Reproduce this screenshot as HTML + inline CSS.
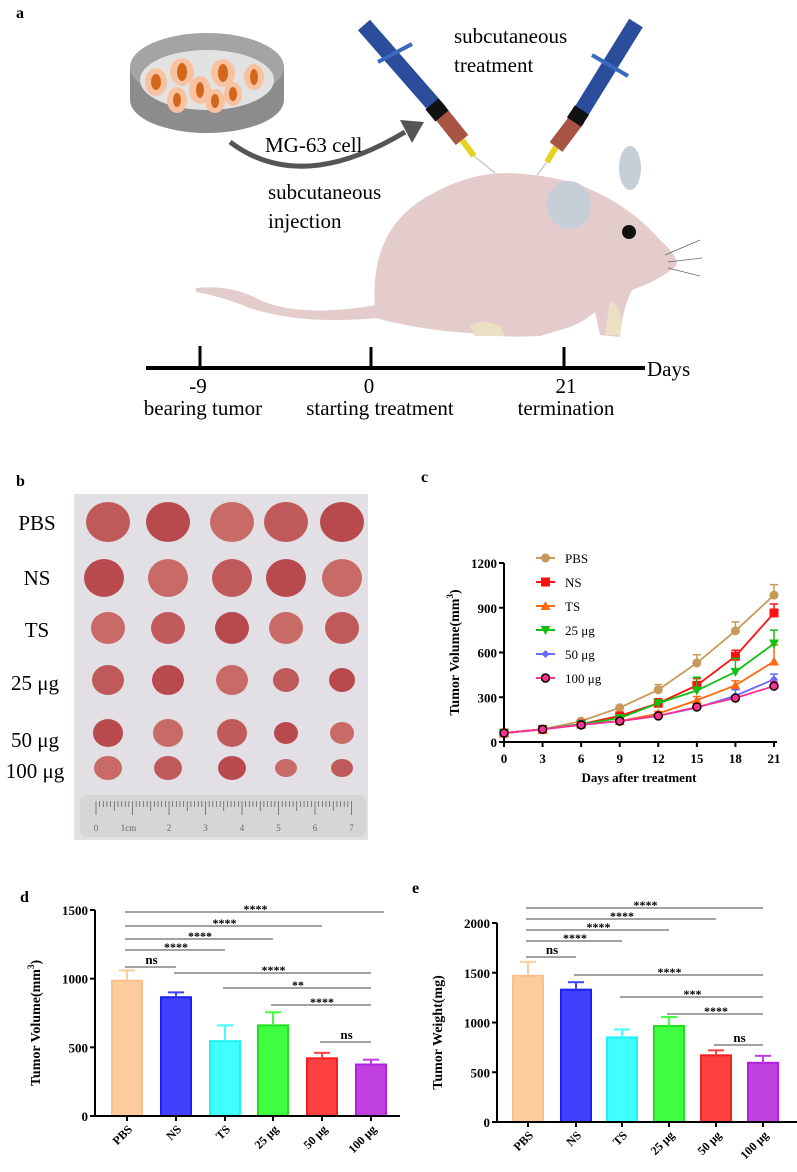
<!DOCTYPE html>
<html><head><meta charset="utf-8"><style>
html,body{margin:0;padding:0;background:#fff}
svg{display:block}
text{font-family:"Liberation Serif",serif}
</style></head><body>
<svg id="fig" width="797" height="1172" viewBox="0 0 797 1172" xmlns="http://www.w3.org/2000/svg">
<rect width="797" height="1172" fill="#fff"/>
<!-- Panel a -->
<g>
<text x="16" y="18" font-size="16" font-weight="bold">a</text>
<g>
<path d="M130,67 L130,100 A77,33 0 0 0 284,100 L284,67 Z" fill="#8c8c8c"/>
<ellipse cx="207" cy="67" rx="77" ry="34" fill="#a4a4a4"/>
<ellipse cx="207" cy="80" rx="67" ry="30" fill="#e2e2e2"/>
<g fill="#f8c2a0"><ellipse cx="156" cy="82" rx="11" ry="14"/><ellipse cx="182" cy="72" rx="12" ry="14"/><ellipse cx="223" cy="73" rx="12" ry="14"/><ellipse cx="254" cy="77" rx="10" ry="13"/><ellipse cx="177" cy="100" rx="10" ry="13"/><ellipse cx="200" cy="90" rx="11" ry="14"/><ellipse cx="215" cy="101" rx="10" ry="12"/><ellipse cx="233" cy="94" rx="9" ry="12"/></g>
<g fill="#d4661c"><ellipse cx="156" cy="82" rx="5" ry="8"/><ellipse cx="182" cy="72" rx="5" ry="9"/><ellipse cx="223" cy="73" rx="5" ry="9"/><ellipse cx="254" cy="77" rx="4" ry="8"/><ellipse cx="177" cy="100" rx="4" ry="7"/><ellipse cx="200" cy="90" rx="4" ry="8"/><ellipse cx="215" cy="101" rx="4" ry="7"/><ellipse cx="233" cy="94" rx="4" ry="7"/></g>
</g>
<path d="M230,142 Q300,195 405,132" stroke="#555" stroke-width="5" fill="none"/>
<path d="M400,120 L424,122 L412,143 Z" fill="#555"/>
<g>
<line x1="364" y1="25" x2="440" y2="112" stroke="#2c4c9c" stroke-width="16"/>
<line x1="438" y1="110" x2="462" y2="140" stroke="#a85444" stroke-width="16"/>
<line x1="432" y1="104" x2="442" y2="116" stroke="#111" stroke-width="17"/>
<line x1="462" y1="140" x2="474" y2="156" stroke="#e8d020" stroke-width="6"/>
<line x1="474" y1="156" x2="495" y2="173" stroke="#ccc" stroke-width="1.5"/>
<line x1="378" y1="62" x2="412" y2="44" stroke="#3a6ac0" stroke-width="4"/>
</g>
<g>
<line x1="636" y1="23" x2="576" y2="120" stroke="#2c4c9c" stroke-width="16"/>
<line x1="578" y1="118" x2="556" y2="147" stroke="#a85444" stroke-width="16"/>
<line x1="582" y1="110" x2="574" y2="122" stroke="#111" stroke-width="17"/>
<line x1="556" y1="147" x2="547" y2="162" stroke="#e8d020" stroke-width="6"/>
<line x1="547" y1="162" x2="537" y2="175" stroke="#ccc" stroke-width="1.5"/>
<line x1="592" y1="55" x2="628" y2="76" stroke="#3a6ac0" stroke-width="4"/>
</g>
<g fill="#e4cccc">
<path d="M196,288 Q230,284 260,300 Q300,318 376,305 L378,318 Q300,325 250,308 Q220,296 196,292 Z"/>
<path d="M376,318 Q365,230 430,195 Q470,172 510,173 Q550,175 580,185 Q630,205 660,240 Q680,258 676,266 Q660,280 632,290 Q622,310 620,337 L600,335 L595,312 Q580,325 560,330 L540,336 Q500,338 470,333 Q420,330 376,318 Z"/>
<ellipse cx="569" cy="205" rx="22" ry="24" fill="#c6ced8"/>
<ellipse cx="630" cy="168" rx="11" ry="22" fill="#c6ced8"/>
<circle cx="629" cy="232" r="7" fill="#111"/>
<path d="M470,326 Q480,318 500,326 L505,336 L475,336 Z" fill="#ece0c4"/>
<path d="M610,300 Q625,310 620,335 L605,335 Z" fill="#ece0c4"/>
<g stroke="#666" stroke-width="0.8" fill="none"><path d="M665,255 L700,240"/><path d="M668,262 L702,258"/><path d="M668,268 L700,276"/></g>
</g>
<g>
<line x1="146" y1="368" x2="645" y2="368" stroke="#000" stroke-width="4"/>
<line x1="200" y1="346" x2="200" y2="368" stroke="#000" stroke-width="3"/>
<line x1="371" y1="347" x2="371" y2="368" stroke="#000" stroke-width="3"/>
<line x1="564" y1="347" x2="564" y2="368" stroke="#000" stroke-width="3"/>
<text x="647" y="376" font-size="21">Days</text>
<text x="198" y="393" font-size="21" text-anchor="middle">-9</text>
<text x="369" y="393" font-size="21" text-anchor="middle">0</text>
<text x="566" y="393" font-size="21" text-anchor="middle">21</text>
<text x="203" y="415" font-size="21" text-anchor="middle">bearing tumor</text>
<text x="380" y="415" font-size="21" text-anchor="middle">starting treatment</text>
<text x="566" y="415" font-size="21" text-anchor="middle">termination</text>
</g>
<text x="454" y="43" font-size="21">subcutaneous</text>
<text x="454" y="72" font-size="21">treatment</text>
<text x="265" y="152" font-size="21">MG-63 cell</text>
<text x="268" y="199" font-size="21">subcutaneous</text>
<text x="268" y="228" font-size="21">injection</text>
</g>
<!-- Panel b -->
<g>
<text x="16" y="486" font-size="16" font-weight="bold">b</text>
<rect x="74" y="494" width="294" height="346" fill="#e2e0e4"/>
<g id="tumors"></g>
<rect x="80" y="795" width="286" height="42" rx="6" fill="#d8d6d4"/>
<g id="ruler-ticks"></g>
<g font-size="21" text-anchor="middle">
<text x="37" y="530">PBS</text><text x="37" y="585">NS</text><text x="37" y="637">TS</text>
<text x="35" y="690">25 μg</text><text x="35" y="747">50 μg</text><text x="35" y="778">100 μg</text>
</g>
</g>
<g id="panel-c">
<text x="421" y="482" font-size="16" font-weight="bold">c</text>
</g>
<g id="panel-d">
<text x="20" y="902" font-size="16" font-weight="bold">d</text>
</g>
<g id="panel-e">
<text x="412" y="893" font-size="16" font-weight="bold">e</text>
</g>
</svg>
<script>
// ---------- Panel c data ----------
const days = [0,3,6,9,12,15,18,21];
const cTicks = [0,300,600,900,1200];
const seriesNames = ["PBS","NS","TS","25 μg","50 μg","100 μg"];
const pbsVals = [60,85,140,230,350,530,745,985];
const pbsErr  = [0,0,5,10,35,55,60,70];
const nsVals  = [60,85,120,175,260,380,575,865];
const nsErr   = [0,0,5,10,30,45,40,60];
const tsVals  = [60,85,120,140,190,280,380,540];
const tsErr   = [0,0,5,8,15,25,30,110];
const g25Vals = [60,85,120,160,260,345,470,660];
const g25Err  = [0,0,5,10,20,90,90,90];
const g50Vals = [60,85,115,140,175,230,310,420];
const g50Err  = [0,0,5,8,10,15,40,35];
const g100Vals= [60,85,115,140,175,235,295,375];
const g100Err = [0,0,5,8,10,15,15,30];
// ---------- Panel d data ----------
const barCats = ["PBS","NS","TS","25 μg","50 μg","100 μg"];
const dTicks = [0,500,1000,1500];
const volVals = [985,865,545,660,420,375];
const volErr  = [75,35,115,95,40,35];
const dSig = [[0,5,"****"],[0,4,"****"],[0,3,"****"],[0,2,"****"],[0,1,"ns"],[1,5,"****"],[2,5,"**"],[3,5,"****"],[4,5,"ns"]];
// ---------- Panel e data ----------
const eTicks = [0,500,1000,1500,2000];
const wtVals = [1470,1330,850,965,670,595];
const wtErr  = [140,75,80,90,50,70];
const eSig = dSig.map(s=>[s[0],s[1],s[2]==="**"?"***":s[2]]);

const NS="http://www.w3.org/2000/svg";
function mk(p,tag,at,txt){const e=document.createElementNS(NS,tag);for(const k in at)e.setAttribute(k,at[k]);if(txt!==undefined)e.textContent=txt;p.appendChild(e);return e;}

(function(){const g=document.getElementById('tumors');
const rows=[522,578,628,680,733,768], cols=[108,168,232,286,342], sz=[[22,20],[20,19],[17,16],[16,15],[15,14],[14,12]];
rows.forEach((y,i)=>cols.forEach((x,j)=>{
 const e=mk(g,'ellipse',{cx:x+(i==1&&j==0?-4:0),cy:y,rx:sz[i][0]-(j>2&&i>2?3:0),ry:sz[i][1]-(j>2&&i>2?3:0),fill:(i+j)%3==0?'#c05a5a':(i+j)%3==1?'#b84a4e':'#c86a66'});
 
 
}));
const r=document.getElementById('ruler-ticks');
for(let k=0;k<=70;k++){const x=96+k*3.65;mk(r,'line',{x1:x,y1:801,x2:x,y2:k%10==0?815:k%5==0?811:807,stroke:'#555','stroke-width':0.7});}
['0','1cm','2','3','4','5','6','7'].forEach((t,k)=>mk(r,'text',{x:96+k*36.5+(k==1?-4:0),y:831,'font-size':9,fill:'#666','font-family':'Liberation Sans','text-anchor':'middle'},t));
})();

(function(){const g=document.getElementById('panel-c');
const x0=504,x1=774,y0=742,y1=563;
const X=d=>x0+(d-0)/21*(x1-x0), Y=v=>y0-(v/1200)*(y0-y1);
mk(g,'line',{x1:x0,y1:y0,x2:x1+3,y2:y0,stroke:'#000','stroke-width':2});
mk(g,'line',{x1:x0,y1:y0,x2:x0,y2:y1,stroke:'#000','stroke-width':2});
cTicks.forEach(t=>{mk(g,'line',{x1:x0-5,y1:Y(t),x2:x0,y2:Y(t),stroke:'#000','stroke-width':2});
 const tl=mk(g,'text',{x:x0-7,y:Y(t)+5,'font-size':13,'font-weight':'bold','text-anchor':'end'},t);
 
 });
days.forEach(d=>{mk(g,'line',{x1:X(d),y1:y0,x2:X(d),y2:y0+5,stroke:'#000','stroke-width':2});
 const tl=mk(g,'text',{x:X(d),y:y0+21,'font-size':13,'font-weight':'bold','text-anchor':'middle'},d);
 
 });
const xt=mk(g,'text',{x:(x0+x1)/2,y:y0+40,'font-size':13,'font-weight':'bold','text-anchor':'middle'},'Days after treatment');


const yt=mk(g,'text',{x:0,y:0,'font-size':14,'font-weight':'bold','text-anchor':'middle',transform:`translate(${x0-45},${(y0+y1)/2}) rotate(-90)`});
yt.innerHTML='Tumor Volume(mm<tspan dy="-6" font-size="9">3</tspan><tspan dy="6">)</tspan>';


const vals=[pbsVals,nsVals,tsVals,g25Vals,g50Vals,g100Vals], errs=[pbsErr,nsErr,tsErr,g25Err,g50Err,g100Err];
const cols=['#c89a5a','#ff1010','#ff6a10','#10c010','#6a6aff','#ff3090'], shapes=['circle','square','tri','tridown','diamond','ring'];
function marker(p,s,x,y,c){
 if(s==='circle')return mk(p,'circle',{cx:x,cy:y,r:4.5,fill:c});
 if(s==='square')return mk(p,'rect',{x:x-4.5,y:y-4.5,width:9,height:9,fill:c});
 if(s==='tri')return mk(p,'polygon',{points:`${x},${y-5} ${x-5},${y+4} ${x+5},${y+4}`,fill:c});
 if(s==='tridown')return mk(p,'polygon',{points:`${x},${y+5} ${x-5},${y-4} ${x+5},${y-4}`,fill:c});
 if(s==='diamond')return mk(p,'polygon',{points:`${x},${y-4} ${x+4},${y} ${x},${y+4} ${x-4},${y}`,fill:c});
 return mk(p,'circle',{cx:x,cy:y,r:4,fill:c,stroke:'#000','stroke-width':1.5});}
vals.forEach((v,i)=>{const sg=mk(g,'g',{});
 
 
 v.forEach((val,k)=>{const e=errs[i][k];if(e>0){mk(sg,'line',{x1:X(days[k]),y1:Y(val),x2:X(days[k]),y2:Y(val+e),stroke:cols[i],'stroke-width':1.5});mk(sg,'line',{x1:X(days[k])-4,y1:Y(val+e),x2:X(days[k])+4,y2:Y(val+e),stroke:cols[i],'stroke-width':1.5});}});
 mk(sg,'polyline',{points:v.map((val,k)=>X(days[k])+','+Y(val)).join(' '),fill:'none',stroke:cols[i],'stroke-width':1.8});
 v.forEach((val,k)=>{const m=marker(sg,shapes[i],X(days[k]),Y(val),cols[i]);});
 const ly=558+i*24; const le=mk(g,'g',{});
 
 
 mk(le,'line',{x1:536,y1:ly,x2:555,y2:ly,stroke:cols[i],'stroke-width':2});marker(le,shapes[i],545.5,ly,cols[i]);
 mk(le,'text',{x:565,y:ly+5,'font-size':13},seriesNames[i]);});
})();

function barPanel(id,x0,x1,y0,y1,ymax,ticks,centers,vals,errs,sig,sigY,title){
 const g=document.getElementById(id);
 const Y=v=>y0-(v/ymax)*(y0-y1);
 const fills=['#fccc9c','#4040ff','#40ffff','#40ff40','#ff4040','#c040e0'];
 const strokes=['#f8c090','#2020f0','#20f0f0','#20e020','#f02020','#b020e0'];
 centers.forEach((c,i)=>{
  const b=mk(g,'rect',{x:c-15,y:Y(vals[i]),width:30,height:y0-Y(vals[i]),fill:fills[i],stroke:strokes[i],'stroke-width':2});
  
  
  mk(g,'line',{x1:c,y1:Y(vals[i]),x2:c,y2:Y(vals[i]+errs[i]),stroke:fills[i],'stroke-width':2});
  mk(g,'line',{x1:c-8,y1:Y(vals[i]+errs[i]),x2:c+8,y2:Y(vals[i]+errs[i]),stroke:fills[i],'stroke-width':2});
  mk(g,'line',{x1:c,y1:y0,x2:c,y2:y0+5,stroke:'#000','stroke-width':2});
  const tl=mk(g,'text',{x:0,y:0,'font-size':12,'font-weight':'bold','text-anchor':'end',transform:`translate(${c+6},${y0+14}) rotate(-45)`},barCats[i]);
  
  
 });
 mk(g,'line',{x1:x0,y1:y0,x2:x1,y2:y0,stroke:'#000','stroke-width':2});
 mk(g,'line',{x1:x0,y1:y0,x2:x0,y2:y1,stroke:'#000','stroke-width':2});
 ticks.forEach(t=>{mk(g,'line',{x1:x0-5,y1:Y(t),x2:x0,y2:Y(t),stroke:'#000','stroke-width':2});
  const tl=mk(g,'text',{x:x0-7,y:Y(t)+5,'font-size':13,'font-weight':'bold','text-anchor':'end'},t);
  
  });
 const yt=mk(g,'text',{x:0,y:0,'font-size':14,'font-weight':'bold','text-anchor':'middle',transform:`translate(${x0-55},${(y0+y1)/2+10}) rotate(-90)`});
 yt.innerHTML=title;
 
 
 sig.forEach((s,k)=>{const y=sigY[k];const a=centers[s[0]],b=centers[s[1]]+(k==0&&id=='panel-d'?13:0);
  const sg=mk(g,'g',{});
  
  
  mk(sg,'line',{x1:a-2,y1:y,x2:b,y2:y,stroke:'#444','stroke-width':1});
  mk(sg,'text',{x:(a+b)/2,y:s[2]==='ns'?y-3:y+1,'font-size':s[2]==='ns'?13:12,'font-weight':'bold','text-anchor':'middle'},s[2]);});
}
barPanel('panel-d',95,400,1116,910,1500,dTicks,[127,176,225,273,322,371],volVals,volErr,dSig,[912,926,939,950,967,973,988,1005,1042],'Tumor Volume(mm<tspan dy="-6" font-size="9">3</tspan><tspan dy="6">)</tspan>');
barPanel('panel-e',497,797,1122,923,2000,eTicks,[528,576,622,669,716,763],wtVals,wtErr,eSig,[908,919,930,941,957,975,997,1014,1045],'Tumor Weight(mg)');
</script>
</body></html>
